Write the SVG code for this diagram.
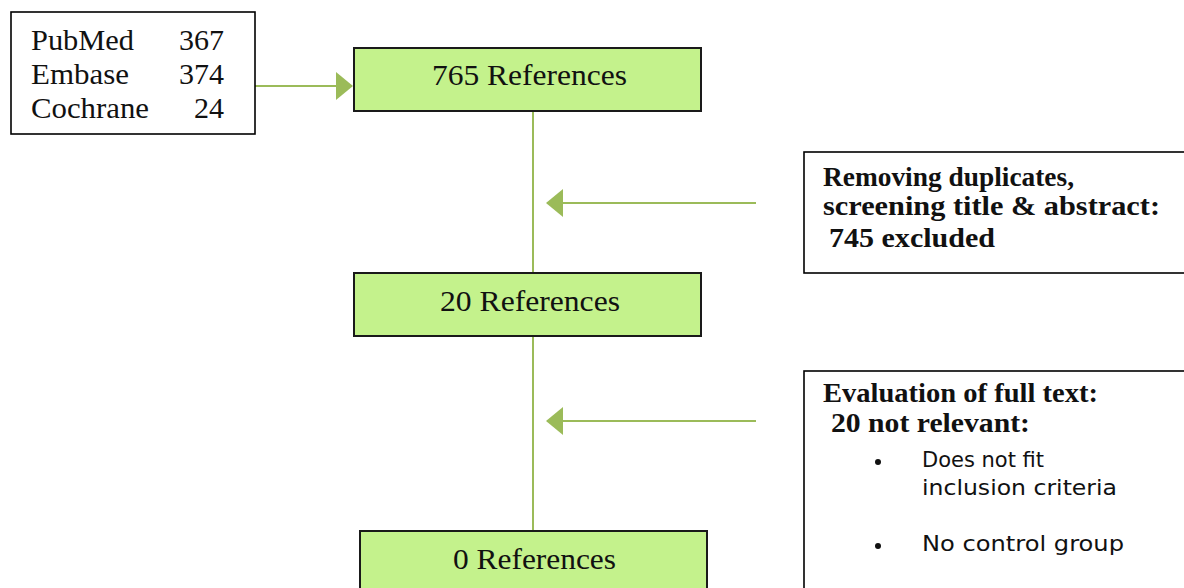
<svg xmlns="http://www.w3.org/2000/svg" width="1184" height="588" viewBox="0 0 1184 588">
  <defs>
    <marker id="arrow" viewBox="0 0 17 28" refX="16" refY="14" markerWidth="17" markerHeight="28" markerUnits="userSpaceOnUse" orient="auto">
      <path d="M0,0 L17,14 L0,28 Z" fill="#9bbb59"/>
    </marker>
    <style>
      .box { fill: #ffffff; stroke: #000000; stroke-width: 1.6; }
      .step { fill: #c4f28c; stroke: #1a1a1a; stroke-width: 2; }
      .link { stroke: #9bbb59; stroke-width: 2; fill: none; }
      .serif { font-family: "Liberation Serif", "DejaVu Serif", serif; font-size: 30px; fill: #111111; }
      .bold { font-family: "Liberation Serif", "DejaVu Serif", serif; font-size: 27px; font-weight: bold; fill: #111111; }
      .sans { font-family: "DejaVu Sans", "Liberation Sans", sans-serif; font-size: 21px; fill: #111111; }
    </style>
  </defs>

  <!-- connectors -->
  <g id="connectors">
    <line class="link" x1="533" y1="111" x2="533" y2="274"/>
    <line class="link" x1="533" y1="336" x2="533" y2="531"/>
    <line class="link" x1="254" y1="86" x2="352" y2="86" marker-end="url(#arrow)"/>
    <line class="link" x1="756" y1="203" x2="547" y2="203" marker-end="url(#arrow)"/>
    <line class="link" x1="756" y1="421" x2="547" y2="421" marker-end="url(#arrow)"/>
  </g>

  <!-- database sources -->
  <g id="sources">
    <rect class="box" x="11" y="12" width="244" height="122"/>
    <text class="serif" x="31" y="50" textLength="103" lengthAdjust="spacingAndGlyphs">PubMed</text>
    <text class="serif" x="224" y="50" text-anchor="end">367</text>
    <text class="serif" x="31" y="84" textLength="98" lengthAdjust="spacingAndGlyphs">Embase</text>
    <text class="serif" x="224" y="84" text-anchor="end">374</text>
    <text class="serif" x="31" y="118" textLength="118" lengthAdjust="spacingAndGlyphs">Cochrane</text>
    <text class="serif" x="224" y="118" text-anchor="end">24</text>
  </g>

  <g id="refs765">
    <rect class="step" x="354" y="48" width="347" height="63"/>
    <text class="serif" x="432" y="85" textLength="195" lengthAdjust="spacingAndGlyphs">765 References</text>
  </g>

  <g id="screening">
    <rect class="box" x="804" y="152" width="392" height="121"/>
    <text class="bold" x="823" y="186" textLength="251" lengthAdjust="spacingAndGlyphs">Removing duplicates,</text>
    <text class="bold" x="823" y="215" textLength="337" lengthAdjust="spacingAndGlyphs">screening title &amp; abstract:</text>
    <text class="bold" x="829" y="247" textLength="166" lengthAdjust="spacingAndGlyphs">745 excluded</text>
  </g>

  <g id="refs20">
    <rect class="step" x="354" y="273" width="347" height="63"/>
    <text class="serif" x="440" y="311" textLength="180" lengthAdjust="spacingAndGlyphs">20 References</text>
  </g>

  <g id="fulltext">
    <rect class="box" x="804" y="371" width="392" height="230"/>
    <text class="bold" x="823" y="402" textLength="275" lengthAdjust="spacingAndGlyphs">Evaluation of full text:</text>
    <text class="bold" x="831" y="432" textLength="199" lengthAdjust="spacingAndGlyphs">20 not relevant:</text>
    <circle cx="878" cy="462" r="3" fill="#111111"/>
    <text class="sans" x="922" y="467">Does not fit</text>
    <text class="sans" x="922" y="495" textLength="195" lengthAdjust="spacingAndGlyphs">inclusion criteria</text>
    <circle cx="878" cy="546" r="3" fill="#111111"/>
    <text class="sans" x="922" y="551" textLength="202" lengthAdjust="spacingAndGlyphs">No control group</text>
  </g>

  <g id="refs0">
    <rect class="step" x="360" y="531" width="347" height="70"/>
    <text class="serif" x="453" y="569" textLength="163" lengthAdjust="spacingAndGlyphs">0 References</text>
  </g>
</svg>
